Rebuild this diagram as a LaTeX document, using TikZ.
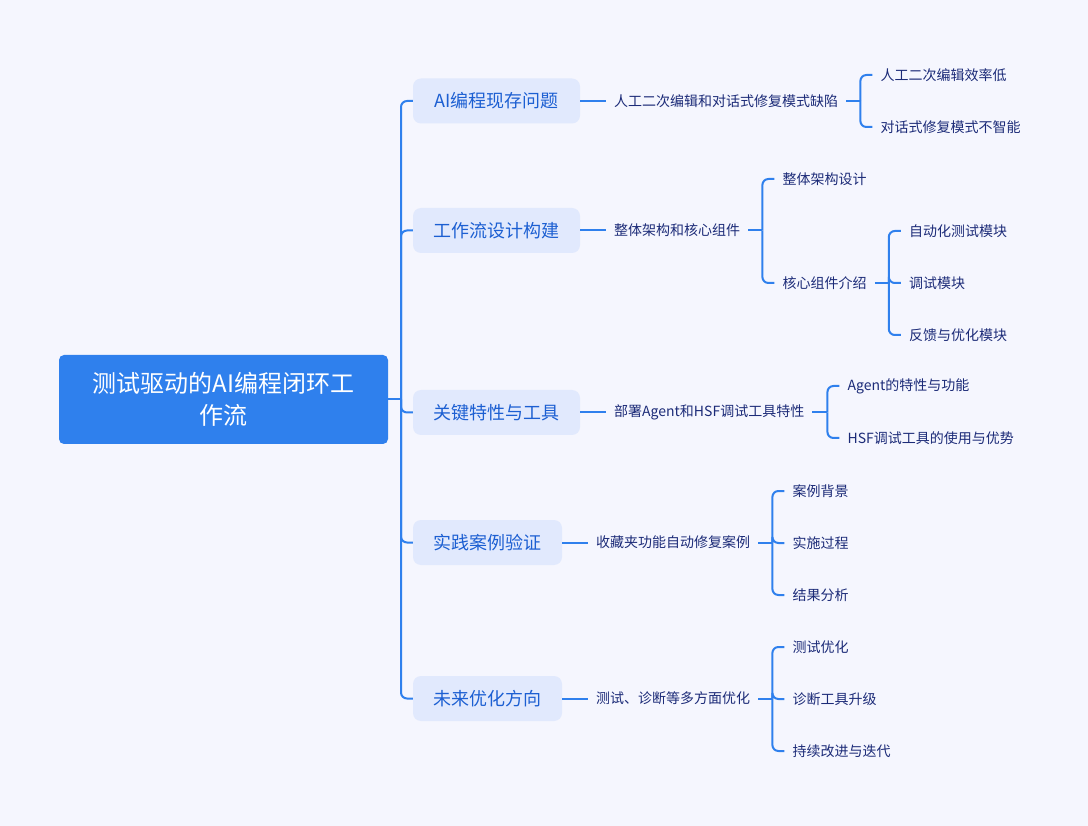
\documentclass[tikz,border=0pt]{standalone}
\usepackage{fontspec}
\setmainfont{Noto Sans CJK SC}
\usetikzlibrary{calc}
\definecolor{bgc}{HTML}{F5F6FE}
\definecolor{rootc}{HTML}{2F80ED}
\definecolor{lonec}{HTML}{E1E9FD}
\definecolor{lonet}{HTML}{1C5FD2}
\definecolor{ltwot}{HTML}{1C2B78}
\definecolor{linec}{HTML}{2F80ED}
\tikzset{
  rootbox/.style={fill=rootc, rounded corners=5pt, minimum width=329pt, minimum height=89pt, inner sep=0pt, align=center, text=white, font=\fontsize{24}{32}\selectfont},
  lonebox/.style={fill=lonec, rounded corners=8pt, minimum height=45pt, inner sep=0pt, text=lonet, font=\fontsize{18}{22}\selectfont},
  ltwo/.style={anchor=west, inner xsep=8pt, inner ysep=0pt, text=ltwot, font=\fontsize{14}{17}\selectfont},
  conn/.style={draw=linec, line width=2pt, rounded corners=6pt}
}
\begin{document}
\begin{tikzpicture}[x=1pt,y=-1pt]
\fill[bgc] (0,0) rectangle (1088,826);
\useasboundingbox (0,0) rectangle (1088,826);

% root
\node[rootbox] (root) at (223.5,399.5) {测试驱动的AI编程闭环工\\作流};
\coordinate (tr) at (401,399.5);

% level 1
\node[lonebox, minimum width=167pt] (la) at (496.5,101) {AI编程现存问题};
\node[lonebox, minimum width=167pt] (lb) at (496.5,230.5) {工作流设计构建};
\node[lonebox, minimum width=167pt] (lc) at (496.5,412.5) {关键特性与工具};
\node[lonebox, minimum width=149pt] (ld) at (487.5,542.5) {实践案例验证};
\node[lonebox, minimum width=149pt] (le) at (487.5,698.5) {未来优化方向};

\draw[conn] (root.east) -- (tr);
\foreach \n in {la,lb,lc,ld,le} { \draw[conn] (\n.west) -| (tr); }

% level 2
\node[ltwo] (ma) at (606,101) {人工二次编辑和对话式修复模式缺陷};
\node[ltwo] (mb) at (606,230.5) {整体架构和核心组件};
\node[ltwo] (mc) at (606,412.5) {部署Agent和HSF调试工具特性};
\node[ltwo] (md) at (588,542.5) {收藏夹功能自动修复案例};
\node[ltwo] (me) at (588,698.5) {测试、诊断等多方面优化};

\foreach \a/\b in {la/ma,lb/mb,lc/mc,ld/md,le/me} { \draw[conn] (\a.east) -- (\b.west); }

% brackets
\coordinate (ba) at ($(ma.east)+(14,0)$);
\coordinate (bb) at ($(mb.east)+(14,0)$);
\coordinate (bc) at ($(mc.east)+(15,0)$);
\coordinate (bd) at ($(md.east)+(14,0)$);
\coordinate (be) at ($(me.east)+(14,0)$);
\foreach \a/\b in {ma/ba,mb/bb,mc/bc,md/bd,me/be} { \draw[conn] (\a.east) -- (\b); }

% children of ma
\node[ltwo] (ca1) at (ba |- 0,75) [xshift=12pt] {人工二次编辑效率低};
\node[ltwo] (ca2) at (ba |- 0,127) [xshift=12pt] {对话式修复模式不智能};
% children of mb
\node[ltwo] (cb1) at (bb |- 0,179) [xshift=12pt] {整体架构设计};
\node[ltwo] (cb2) at (bb |- 0,283) [xshift=12pt] {核心组件介绍};
\coordinate (bf) at ($(cb2.east)+(14,0)$);
\node[ltwo] (cf1) at (bf |- 0,231) [xshift=12pt] {自动化测试模块};
\node[ltwo] (cf2) at (bf |- 0,283) [xshift=12pt] {调试模块};
\node[ltwo] (cf3) at (bf |- 0,335) [xshift=12pt] {反馈与优化模块};
% children of mc
\node[ltwo] (cc1) at (bc |- 0,386) [xshift=12pt] {Agent的特性与功能};
\node[ltwo] (cc2) at (bc |- 0,438) [xshift=12pt] {HSF调试工具的使用与优势};
% children of md
\node[ltwo] (cd1) at (bd |- 0,491) [xshift=12pt] {案例背景};
\node[ltwo] (cd2) at (bd |- 0,543) [xshift=12pt] {实施过程};
\node[ltwo] (cd3) at (bd |- 0,595) [xshift=12pt] {结果分析};
% children of me
\node[ltwo] (ce1) at (be |- 0,647) [xshift=12pt] {测试优化};
\node[ltwo] (ce2) at (be |- 0,699) [xshift=12pt] {诊断工具升级};
\node[ltwo] (ce3) at (be |- 0,751) [xshift=12pt] {持续改进与迭代};

\draw[conn] (cb2.east) -- (bf);
\foreach \b/\c in {ba/ca1,ba/ca2,bb/cb1,bb/cb2,bf/cf1,bf/cf2,bf/cf3,bc/cc1,bc/cc2,bd/cd1,bd/cd2,bd/cd3,be/ce1,be/ce2,be/ce3} { \draw[conn] (\b) |- (\c.west); }
\end{tikzpicture}
\end{document}
